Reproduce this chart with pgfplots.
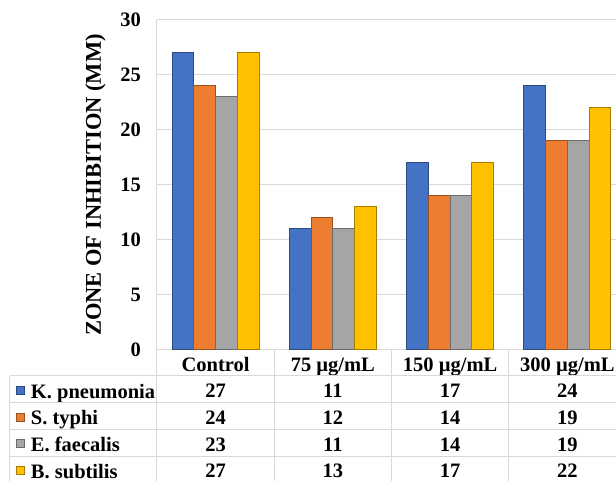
\documentclass[border=0pt]{standalone}
\usepackage{fontspec}
\setmainfont{Liberation Serif}[BoldFont={Liberation Serif Bold}]
\usepackage{pgfplots}
\pgfplotsset{compat=1.18}
\definecolor{cB}{HTML}{4472C4}
\definecolor{cO}{HTML}{ED7D31}
\definecolor{cG}{HTML}{A5A5A5}
\definecolor{cY}{HTML}{FFC000}
\definecolor{gridc}{HTML}{D9D9D9}
\newcommand{\fsz}{\fontsize{20.5}{24}\selectfont\bfseries}
\pgfplotsset{
  bev/.style={draw=#1!65!black, line width=1pt, fill=#1},
}
\begin{document}
\begin{tikzpicture}
\useasboundingbox (-157pt,-131pt) rectangle (459pt,350pt);
\clip (-157pt,-131pt) rectangle (459pt,350pt);
\begin{axis}[
  scale only axis, width=469pt, height=330pt,
  xmin=0, xmax=4, ymin=0, ymax=30,
  ybar=0pt, bar width=21.75pt,
  xtick={0.5,1.5,2.5,3.5},
  xticklabels={Control, 75 µg/mL, 150 µg/mL, 300 µg/mL},
  ytick={0,5,...,30},
  major tick length=0pt,
  ymajorgrids, grid style={draw=gridc, line width=1pt},
  axis lines*=left, axis line style={-, draw=gridc, line width=1pt},
  clip=false,
  tick label style={font=\fsz},
  /pgf/number format/assume math mode=true,
  yticklabel style={anchor=east, inner sep=0pt, xshift=-16pt},
  xticklabel style={anchor=base, inner sep=0pt, yshift=-22pt},
  ylabel={ZONE OF INHIBITION (MM)},
  every axis y label/.style={at={(axis description cs:-0.131,0.5)}, rotate=90, anchor=center, font=\fontsize{22.5}{26}\selectfont\bfseries},
  legend image code/.code={\fill[#1] (0pt,-5pt) rectangle (8pt,3pt);},
  legend cell align=left,
  legend style={at={(axis description cs:-0.30064,-0.07879)}, anchor=north west, draw=none, fill=none, inner sep=0pt, outer sep=0pt, row sep=0pt, font=\fsz, nodes={inner sep=0pt, text height=22pt, text depth=4.67pt}, /tikz/every odd column/.append style={column sep=6pt}},
]
\addplot[bev=cB] coordinates {(0.5,27) (1.5,11) (2.5,17) (3.5,24)};
\addlegendentry{K. pneumonia}
\addplot[bev=cO] coordinates {(0.5,24) (1.5,12) (2.5,14) (3.5,19)};
\addlegendentry{S. typhi}
\addplot[bev=cG] coordinates {(0.5,23) (1.5,11) (2.5,14) (3.5,19)};
\addlegendentry{E. faecalis}
\addplot[bev=cY] coordinates {(0.5,27) (1.5,13) (2.5,17) (3.5,22)};
\addlegendentry{B. subtilis}
\end{axis}
% data table grid
\begin{scope}[gridc, line width=1pt]
\foreach \y in {-26,-53,-80,-107,-134} \draw (-147pt,\y pt) -- (469pt,\y pt);
\draw (-147pt,-26pt) -- (-147pt,-140pt);
\foreach \x in {0,117.25,234.5,351.75} \draw (\x pt,0pt) -- (\x pt,-140pt);
\end{scope}
% data table values
\begin{scope}[every node/.style={anchor=base, inner sep=0pt, font=\fsz}]
\foreach \v [count=\i from 0] in {27,11,17,24} {\pgfmathsetmacro{\cx}{58.625+117.25*\i}\node at (\cx pt,-48pt) {\v};}
\foreach \v [count=\i from 0] in {24,12,14,19} {\pgfmathsetmacro{\cx}{58.625+117.25*\i}\node at (\cx pt,-74.67pt) {\v};}
\foreach \v [count=\i from 0] in {23,11,14,19} {\pgfmathsetmacro{\cx}{58.625+117.25*\i}\node at (\cx pt,-101.33pt) {\v};}
\foreach \v [count=\i from 0] in {27,13,17,22} {\pgfmathsetmacro{\cx}{58.625+117.25*\i}\node at (\cx pt,-128pt) {\v};}
\end{scope}
\end{tikzpicture}
\end{document}
